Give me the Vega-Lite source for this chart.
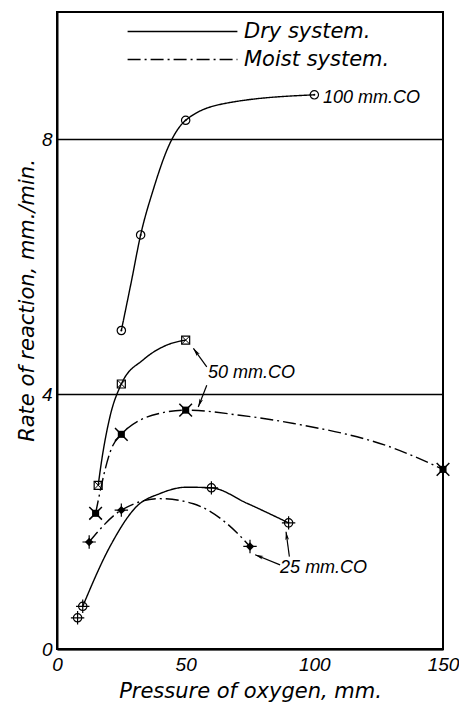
{
  "$schema": "https://vega.github.io/schema/vega-lite/v6.json",
  "width": 386,
  "height": 637,
  "autosize": {"type": "none"},
  "padding": {"left": 57, "top": 12, "right": 16, "bottom": 57},
  "background": "white",
  "datasets": {
    "obs": [
      {"co": 100, "system": "Dry", "x": 25, "y": 5.0, "kind": "measured"},
      {"co": 100, "system": "Dry", "x": 29, "y": 5.79, "kind": "trace"},
      {"co": 100, "system": "Dry", "x": 32.5, "y": 6.5, "kind": "measured"},
      {"co": 100, "system": "Dry", "x": 37.4, "y": 7.21, "kind": "trace"},
      {"co": 100, "system": "Dry", "x": 43.9, "y": 7.94, "kind": "trace"},
      {"co": 100, "system": "Dry", "x": 50, "y": 8.3, "kind": "measured"},
      {"co": 100, "system": "Dry", "x": 66, "y": 8.57, "kind": "trace"},
      {"co": 100, "system": "Dry", "x": 100, "y": 8.7, "kind": "measured"},
      {"co": 50, "system": "Dry", "x": 16, "y": 2.57, "kind": "measured"},
      {"co": 50, "system": "Dry", "x": 17.4, "y": 2.97, "kind": "trace"},
      {"co": 50, "system": "Dry", "x": 20.6, "y": 3.65, "kind": "trace"},
      {"co": 50, "system": "Dry", "x": 25, "y": 4.16, "kind": "measured"},
      {"co": 50, "system": "Dry", "x": 33.5, "y": 4.54, "kind": "trace"},
      {"co": 50, "system": "Dry", "x": 42.6, "y": 4.77, "kind": "trace"},
      {"co": 50, "system": "Dry", "x": 50, "y": 4.85, "kind": "measured"},
      {"co": 50, "system": "Moist", "x": 15, "y": 2.13, "kind": "measured"},
      {"co": 50, "system": "Moist", "x": 21.2, "y": 3.15, "kind": "trace"},
      {"co": 50, "system": "Moist", "x": 25, "y": 3.37, "kind": "measured"},
      {"co": 50, "system": "Moist", "x": 40, "y": 3.7, "kind": "trace"},
      {"co": 50, "system": "Moist", "x": 50, "y": 3.75, "kind": "measured"},
      {"co": 50, "system": "Moist", "x": 71, "y": 3.67, "kind": "trace"},
      {"co": 50, "system": "Moist", "x": 92, "y": 3.54, "kind": "trace"},
      {"co": 50, "system": "Moist", "x": 131, "y": 3.15, "kind": "trace"},
      {"co": 50, "system": "Moist", "x": 150, "y": 2.82, "kind": "measured"},
      {"co": 25, "system": "Dry", "x": 8, "y": 0.49, "kind": "stray"},
      {"co": 25, "system": "Dry", "x": 10, "y": 0.67, "kind": "measured"},
      {"co": 25, "system": "Dry", "x": 20.6, "y": 1.61, "kind": "trace"},
      {"co": 25, "system": "Dry", "x": 31, "y": 2.24, "kind": "trace"},
      {"co": 25, "system": "Dry", "x": 40, "y": 2.44, "kind": "trace"},
      {"co": 25, "system": "Dry", "x": 50.4, "y": 2.54, "kind": "trace"},
      {"co": 25, "system": "Dry", "x": 60, "y": 2.53, "kind": "measured"},
      {"co": 25, "system": "Dry", "x": 73.7, "y": 2.29, "kind": "trace"},
      {"co": 25, "system": "Dry", "x": 90, "y": 1.98, "kind": "measured"},
      {"co": 25, "system": "Moist", "x": 12.5, "y": 1.68, "kind": "measured"},
      {"co": 25, "system": "Moist", "x": 25, "y": 2.18, "kind": "measured"},
      {"co": 25, "system": "Moist", "x": 40, "y": 2.36, "kind": "trace"},
      {"co": 25, "system": "Moist", "x": 53, "y": 2.28, "kind": "trace"},
      {"co": 25, "system": "Moist", "x": 66, "y": 1.97, "kind": "trace"},
      {"co": 25, "system": "Moist", "x": 75, "y": 1.61, "kind": "measured"}
    ],
    "labels": [
      {"text": "100 mm.CO", "x": 103.4, "y": 8.65},
      {"text": "50 mm.CO", "x": 58.7, "y": 4.33},
      {"text": "25 mm.CO", "x": 86.7, "y": 1.27}
    ],
    "arrows": [
      {"x": 58.2, "y": 4.43, "x2": 53, "y2": 4.72, "heading": 324},
      {"x": 58.2, "y": 4.14, "x2": 54.9, "y2": 3.8, "heading": 201},
      {"x": 86.7, "y": 1.32, "x2": 77, "y2": 1.48, "heading": 292},
      {"x": 90.3, "y": 1.45, "x2": 89, "y2": 1.84, "heading": 352}
    ],
    "grid": [{"x": 50}, {"x": 100}]
  },
  "encoding": {
    "x": {
      "field": "x", "type": "quantitative",
      "scale": {"domain": [0, 150], "nice": false, "zero": false},
      "axis": {
        "values": [0, 50, 100, 150], "grid": false, "ticks": false,
        "domainColor": "black", "domainWidth": 2,
        "labelFont": "Liberation Sans", "labelFontStyle": "italic", "labelFontSize": 19,
        "labelColor": "black", "labelPadding": 6, "labelFlush": false, "labelOverlap": false,
        "title": "Pressure of oxygen, mm.", "titleFont": "DejaVu Sans", "titleFontStyle": "italic",
        "titleFontWeight": "normal", "titleFontSize": 21, "titleColor": "black", "titlePadding": 6
      }
    },
    "y": {
      "field": "y", "type": "quantitative",
      "scale": {"domain": [0, 10], "nice": false, "zero": false},
      "axis": {
        "values": [0, 4, 8], "grid": true, "gridColor": "black", "gridWidth": 1.5, "gridOpacity": 1,
        "ticks": false, "domainColor": "black", "domainWidth": 2,
        "labelFont": "Liberation Sans", "labelFontStyle": "italic", "labelFontSize": 19,
        "labelColor": "black", "labelPadding": 5, "labelFlush": false, "labelOverlap": false,
        "title": "Rate of reaction, mm./min.", "titleFont": "DejaVu Sans", "titleFontStyle": "italic",
        "titleFontWeight": "normal", "titleFontSize": 21, "titleColor": "black",
        "titleX": -20, "titleY": 288
      }
    }
  },
  "layer": [
    {
      "data": {"name": "grid"},
      "mark": {"type": "rule", "color": "black", "strokeWidth": 1.5},
      "encoding": {"y": {"datum": 0}, "y2": {"datum": 9}}
    },
    {
      "data": {"name": "obs"},
      "transform": [{"filter": "datum.kind != 'stray'"}],
      "mark": {"type": "line", "interpolate": "monotone", "color": "black", "strokeWidth": 1.4},
      "encoding": {
        "detail": {"field": "co", "type": "nominal"},
        "order": {"field": "x", "type": "quantitative"},
        "strokeDash": {
          "field": "system", "type": "nominal",
          "scale": {"domain": ["Dry", "Moist"], "range": [[1, 0], [13, 4, 2, 4]]},
          "legend": {
            "orient": "none", "legendX": 115, "legendY": 9, "title": null, "padding": 0,
            "symbolType": "M-30,0H30", "symbolSize": 13.4, "symbolStrokeWidth": 1.5,
            "symbolStrokeColor": "black", "symbolFillColor": "transparent", "symbolOpacity": 1,
            "labelFont": "DejaVu Sans", "labelFontStyle": "italic", "labelFontSize": 21,
            "labelColor": "black", "labelOffset": 51, "rowPadding": 6,
            "labelExpr": "datum.label + ' system.'"
          }
        }
      }
    },
    {
      "data": {"name": "obs"},
      "transform": [{"filter": "datum.kind != 'trace' && datum.system == 'Dry' && datum.co != 50"}],
      "mark": {"type": "point", "shape": "circle", "filled": false, "color": "black", "strokeWidth": 1.2, "size": 70, "opacity": 1}
    },
    {
      "data": {"name": "obs"},
      "transform": [{"filter": "datum.kind != 'trace' && datum.system == 'Dry' && datum.co == 100"}],
      "mark": {"type": "point", "shape": "circle", "filled": true, "color": "black", "size": 4, "opacity": 1}
    },
    {
      "data": {"name": "obs"},
      "transform": [{"filter": "datum.kind != 'trace' && datum.system == 'Dry' && datum.co == 50"}],
      "mark": {"type": "point", "shape": "square", "filled": false, "color": "black", "strokeWidth": 1.2, "size": 64, "opacity": 1}
    },
    {
      "data": {"name": "obs"},
      "transform": [{"filter": "datum.kind != 'trace' && datum.system == 'Dry' && datum.co == 50"}],
      "mark": {"type": "point", "shape": "M-1,-1L1,1M1,-1L-1,1", "filled": false, "color": "black", "strokeWidth": 1, "size": 60, "opacity": 1}
    },
    {
      "data": {"name": "obs"},
      "transform": [{"filter": "datum.kind != 'trace' && datum.system == 'Moist' && datum.co == 50"}],
      "mark": {"type": "point", "shape": "square", "filled": true, "color": "black", "size": 50, "opacity": 1}
    },
    {
      "data": {"name": "obs"},
      "transform": [{"filter": "datum.kind != 'trace' && datum.system == 'Moist' && datum.co == 50"}],
      "mark": {"type": "point", "shape": "M-1,-1L1,1M1,-1L-1,1", "filled": false, "color": "black", "strokeWidth": 1.5, "size": 160, "opacity": 1}
    },
    {
      "data": {"name": "obs"},
      "transform": [{"filter": "datum.kind != 'trace' && datum.co == 25"}],
      "mark": {"type": "point", "shape": "M-1,0L1,0M0,-1L0,1", "filled": false, "color": "black", "strokeWidth": 1.2, "size": 180, "opacity": 1}
    },
    {
      "data": {"name": "obs"},
      "transform": [{"filter": "datum.kind != 'trace' && datum.system == 'Moist' && datum.co == 25"}],
      "mark": {"type": "point", "shape": "diamond", "filled": true, "color": "black", "size": 70, "opacity": 1}
    },
    {
      "data": {"name": "arrows"},
      "mark": {"type": "rule", "color": "black", "strokeWidth": 1.2},
      "encoding": {
        "x2": {"field": "x2"},
        "y2": {"field": "y2"}
      }
    },
    {
      "data": {"name": "arrows"},
      "mark": {"type": "point", "shape": "M0,0L0.45,2L0,1.5L-0.45,2Z", "filled": true, "color": "black", "size": 70, "opacity": 1},
      "encoding": {
        "x": {"field": "x2", "type": "quantitative"},
        "y": {"field": "y2", "type": "quantitative"},
        "angle": {"field": "heading", "type": "quantitative", "scale": null}
      }
    },
    {
      "data": {"name": "labels"},
      "mark": {"type": "text", "align": "left", "baseline": "middle", "font": "Liberation Sans", "fontStyle": "italic", "fontSize": 18, "color": "black"},
      "encoding": {"text": {"field": "text", "type": "nominal"}}
    }
  ],
  "config": {
    "view": {"stroke": "black", "strokeWidth": 2}
  }
}
